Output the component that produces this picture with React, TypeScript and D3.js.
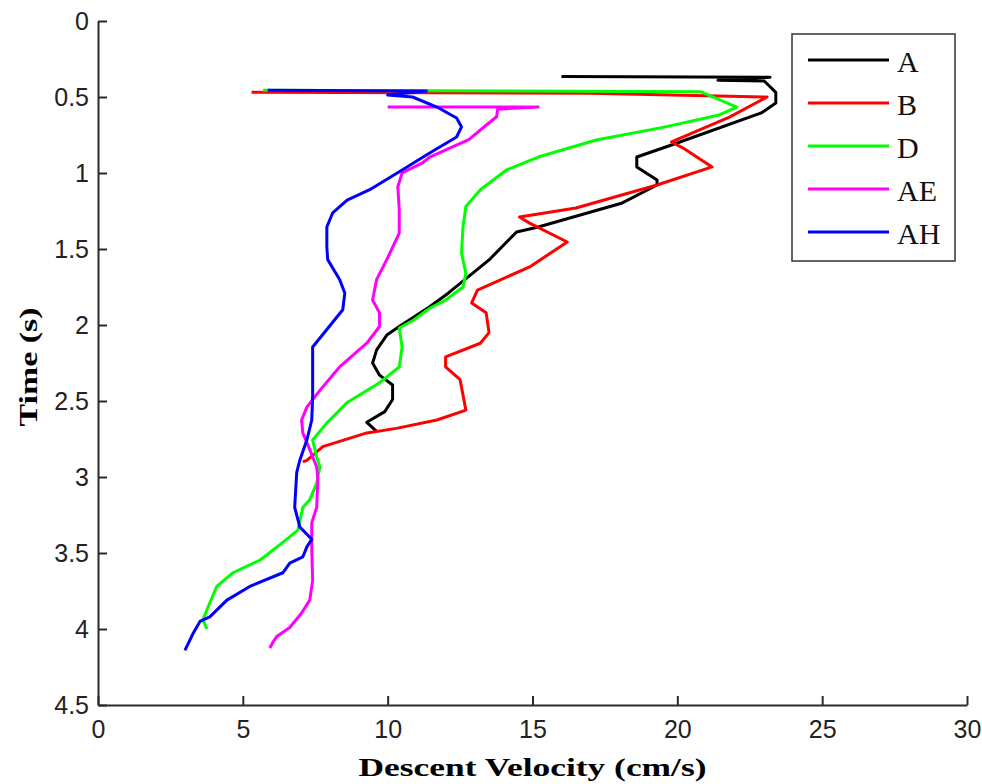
import React, { useEffect, useRef } from "react";
import * as d3 from "d3";

// descent velocity (cm/s) vs time (s) for each run
const velA = [16.0, 23.2, 21.4, 23.0, 23.4, 23.4, 22.9, 19.8, 18.6, 18.6, 19.3, 19.3, 18.1, 15.2, 14.45, 13.5, 12.1, 11.45, 10.4, 9.97, 9.62, 9.48, 9.72, 10.17, 10.17, 9.9, 9.28, 9.62];
const timeA = [0.365, 0.37, 0.39, 0.395, 0.47, 0.54, 0.605, 0.816, 0.895, 0.96, 1.046, 1.079, 1.197, 1.355, 1.388, 1.572, 1.789, 1.88, 2.01, 2.066, 2.164, 2.25, 2.33, 2.395, 2.49, 2.57, 2.64, 2.70];

const velB = [5.3, 17.0, 23.1, 21.8, 19.8, 20.2, 21.2, 19.3, 16.5, 14.55, 14.9, 16.2, 14.9, 13.1, 12.9, 13.4, 13.5, 13.2, 12.0, 12.0, 12.5, 12.7, 11.7, 10.3, 9.28, 7.76, 7.21, 7.07];
const timeB = [0.468, 0.475, 0.5, 0.632, 0.796, 0.836, 0.96, 1.079, 1.23, 1.29, 1.33, 1.454, 1.618, 1.77, 1.855, 1.92, 2.05, 2.12, 2.21, 2.276, 2.36, 2.56, 2.625, 2.68, 2.71, 2.8, 2.89, 2.9];

const velD = [5.7, 20.8, 22.05, 21.45, 19.5, 17.2, 15.2, 14.1, 13.2, 12.7, 12.6, 12.55, 12.7, 12.6, 12.0, 11.45, 10.9, 10.4, 10.5, 10.4, 9.72, 8.6, 7.9, 7.41, 7.55, 7.66, 7.55, 7.31, 7.07, 6.9, 6.38, 5.6, 4.66, 4.1, 3.8, 3.62, 3.76];
const timeD = [0.455, 0.465, 0.566, 0.618, 0.7, 0.783, 0.895, 0.98, 1.11, 1.22, 1.355, 1.526, 1.66, 1.75, 1.836, 1.89, 1.967, 2.02, 2.145, 2.276, 2.38, 2.51, 2.645, 2.757, 2.868, 2.934, 3.04, 3.15, 3.2, 3.35, 3.43, 3.546, 3.63, 3.72, 3.855, 3.94, 4.0];

const velAE = [10.0, 15.2, 13.8, 13.76, 13.2, 12.8, 11.45, 11.2, 10.5, 10.35, 10.4, 10.4, 9.97, 9.62, 9.48, 9.72, 9.72, 9.28, 8.34, 7.66, 7.21, 7.03, 7.07, 7.31, 7.55, 7.59, 7.55, 7.38, 7.38, 7.41, 7.31, 7.03, 6.62, 6.17, 6.03, 5.93];
const timeAE = [0.566, 0.566, 0.58, 0.63, 0.717, 0.78, 0.895, 0.934, 1.0, 1.09, 1.24, 1.395, 1.57, 1.7, 1.835, 1.92, 2.01, 2.12, 2.276, 2.43, 2.54, 2.625, 2.71, 2.82, 2.934, 3.02, 3.2, 3.3, 3.48, 3.68, 3.81, 3.895, 3.99, 4.05, 4.09, 4.125];

const velAH = [5.86, 11.34, 10.0, 10.86, 11.7, 12.38, 12.55, 12.38, 11.45, 10.5, 9.38, 8.6, 8.1, 7.9, 7.9, 7.93, 8.34, 8.52, 8.45, 7.9, 7.41, 7.41, 7.41, 7.38, 7.21, 6.97, 6.86, 6.79, 6.97, 7.38, 7.21, 7.07, 6.62, 6.38, 5.24, 4.45, 3.86, 3.52, 3.28, 3.0];
const timeAH = [0.455, 0.46, 0.487, 0.5, 0.566, 0.638, 0.697, 0.763, 0.868, 0.98, 1.11, 1.178, 1.263, 1.355, 1.487, 1.57, 1.7, 1.79, 1.9, 2.03, 2.145, 2.25, 2.47, 2.625, 2.757, 2.888, 2.97, 3.2, 3.33, 3.41, 3.46, 3.526, 3.566, 3.63, 3.72, 3.81, 3.92, 3.95, 4.03, 4.14];

const names = ["A", "B", "D", "AE", "AH"];
const colors = ["#000000", "#ff0000", "#00ff00", "#ff00ff", "#0000ff"];
const xTicks = [0, 5, 10, 15, 20, 25, 30];
const yTicks = [0, 0.5, 1, 1.5, 2, 2.5, 3, 3.5, 4, 4.5];

const App = () => {
  const svgRef = useRef<SVGSVGElement>(null);

  useEffect(() => {
    const svg = d3.select(svgRef.current);
    svg.selectAll("*").remove();

    const width = 982;
    const height = 784;
    const margin = { top: 21, right: 15, bottom: 79, left: 98 };

    const x = d3.scaleLinear().domain([0, 30]).range([margin.left, width - margin.right]);
    const y = d3.scaleLinear().domain([0, 4.5]).range([margin.top, height - margin.bottom]);

    const series = [
      [velA, timeA],
      [velB, timeB],
      [velD, timeD],
      [velAE, timeAE],
      [velAH, timeAH],
    ];

    const line = d3.line<[number, number]>()
      .x(d => x(d[0]))
      .y(d => y(d[1]));

    series.forEach(([v, t], i) => {
      const pts = v.map((d, j) => [d, t[j]] as [number, number]);
      svg.append("path")
        .datum(pts)
        .attr("d", line)
        .attr("fill", "none")
        .attr("stroke", colors[i])
        .attr("stroke-width", 3)
        .attr("stroke-linejoin", "round");
    });

    // axes (left and bottom only, ticks pointing inward)
    const xAxis = svg.append("g")
      .attr("transform", `translate(0,${height - margin.bottom})`)
      .call(d3.axisBottom(x).tickValues(xTicks).tickSizeInner(-9).tickSizeOuter(0).tickPadding(15).tickFormat(d3.format("d")));
    const yAxis = svg.append("g")
      .attr("transform", `translate(${margin.left},0)`)
      .call(d3.axisLeft(y).tickValues(yTicks).tickSizeInner(-9).tickSizeOuter(0).tickPadding(9).tickFormat(d => String(d)));

    [xAxis, yAxis].forEach(g => {
      g.select(".domain").attr("stroke", "#2b2b2b").attr("stroke-width", 2);
      g.selectAll(".tick line").attr("stroke", "#2b2b2b").attr("stroke-width", 2);
      g.selectAll(".tick text")
        .attr("fill", "#222")
        .style("font-family", "'Liberation Sans Narrow', 'Liberation Sans', Arial, sans-serif")
        .style("font-size", "25px");
    });

    svg.append("text")
      .attr("x", (margin.left + width - margin.right) / 2)
      .attr("y", 776)
      .attr("text-anchor", "middle")
      .attr("textLength", 348)
      .attr("lengthAdjust", "spacingAndGlyphs")
      .style("font-family", "'Liberation Serif', 'Times New Roman', serif")
      .style("font-weight", "bold")
      .style("font-size", "25px")
      .text("Descent Velocity (cm/s)");

    svg.append("text")
      .attr("transform", `translate(37,${(margin.top + height - margin.bottom) / 2 + 4}) rotate(-90)`)
      .attr("text-anchor", "middle")
      .attr("textLength", 119)
      .attr("lengthAdjust", "spacingAndGlyphs")
      .style("font-family", "'Liberation Serif', 'Times New Roman', serif")
      .style("font-weight", "bold")
      .style("font-size", "25px")
      .text("Time (s)");

    // legend
    const legend = svg.append("g");
    legend.append("rect")
      .attr("x", 792).attr("y", 34)
      .attr("width", 163).attr("height", 227)
      .attr("fill", "white")
      .attr("stroke", "#333")
      .attr("stroke-width", 1.5);

    const ly = d3.scalePoint<string>().domain(names).range([60, 232]);
    names.forEach((n, i) => {
      legend.append("line")
        .attr("x1", 808).attr("x2", 889)
        .attr("y1", ly(n)!).attr("y2", ly(n)!)
        .attr("stroke", colors[i])
        .attr("stroke-width", 3);
      legend.append("text")
        .attr("x", 897)
        .attr("y", ly(n)! + 12)
        .style("font-family", "'Liberation Serif', 'Times New Roman', serif")
        .style("font-size", "30px")
        .attr("fill", "#111")
        .text(n);
    });
  }, []);

  return (
    <svg
      ref={svgRef}
      width={982}
      height={784}
      style={{ position: "absolute", left: 0, top: 0, background: "white" }}
    />
  );
};

export default App;
